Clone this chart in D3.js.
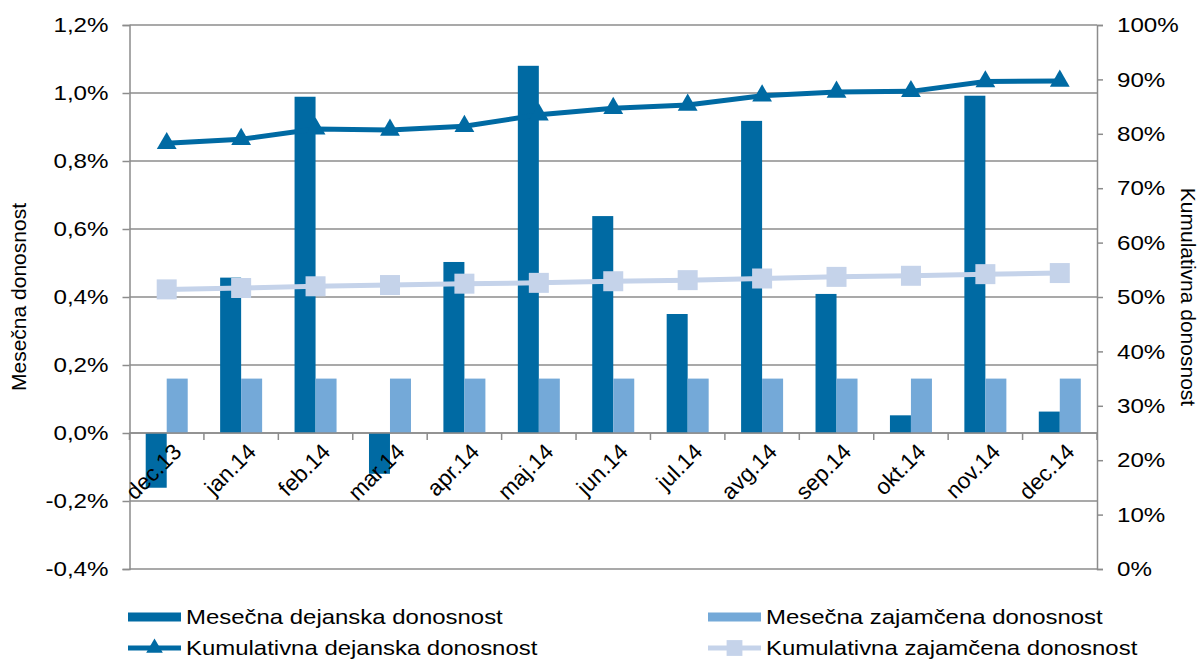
<!DOCTYPE html>
<html>
<head>
<meta charset="utf-8">
<script src="https://cdn.jsdelivr.net/npm/d3@7"></script>
<style>
  body { margin: 0; background: #fff; }
  text { font-family: "Liberation Sans", Arial, sans-serif; fill: #000; }
</style>
</head>
<body>
<svg id="chart" width="1202" height="659"></svg>
<script>
// data
var months = ["dec.13", "jan.14", "feb.14", "mar.14", "apr.14", "maj.14", "jun.14",
              "jul.14", "avg.14", "sep.14", "okt.14", "nov.14", "dec.14"];
var mesecnaDejanska = [-0.161, 0.457, 0.989, -0.12, 0.503, 1.080, 0.638,
                       0.350, 0.918, 0.409, 0.052, 0.992, 0.063];
var mesecnaZajamcena = [0.16, 0.16, 0.16, 0.16, 0.16, 0.16, 0.16,
                        0.16, 0.16, 0.16, 0.16, 0.16, 0.16];
var kumDejanska = [78.25, 79.0, 80.9, 80.7, 81.4, 83.5, 84.7,
                   85.3, 87.0, 87.7, 87.8, 89.6, 89.7];
var kumZajamcena = [51.4, 51.65, 51.97, 52.2, 52.45, 52.6, 52.9,
                    53.1, 53.4, 53.7, 53.9, 54.2, 54.4];
var leftTicks = [-0.4, -0.2, 0, 0.2, 0.4, 0.6, 0.8, 1.0, 1.2];
var rightTicks = [0, 10, 20, 30, 40, 50, 60, 70, 80, 90, 100];

var cDark = "#006aa3", cLight = "#74a9d8", cLine2 = "#c5d3ea", cGrid = "#8c8c8c";

var svg = d3.select("#chart");
var margin = {left: 129.5, right: 105, top: 25, bottom: 90};
var width = 1202 - margin.left - margin.right;
var height = 659 - margin.top - margin.bottom;
var g = svg.append("g").attr("transform", "translate(" + margin.left + "," + margin.top + ")");

var x = d3.scaleBand().domain(months).range([0, width]);
var yL = d3.scaleLinear().domain([-0.4, 1.2]).range([height, 0]);
var yR = d3.scaleLinear().domain([0, 100]).range([height, 0]);
var fmtL = function(d) { return d3.format(".1f")(d).replace(".", ",").replace("\u2212", "-") + "%"; };

// the original text is a bit wider than Liberation Sans, stretch it
function stretch(sel, k) {
    sel.each(function() {
        var w = this.getComputedTextLength();
        d3.select(this).attr("textLength", w * k).attr("lengthAdjust", "spacingAndGlyphs");
    });
}

// gridlines
g.append("g").selectAll("line").data(leftTicks).enter().append("line")
    .attr("x1", 0).attr("x2", width)
    .attr("y1", function(d) { return yL(d); }).attr("y2", function(d) { return yL(d); })
    .attr("stroke", cGrid).attr("stroke-width", 1.5);

// left axis
var axL = g.append("g")
    .call(d3.axisLeft(yL).tickValues(leftTicks).tickFormat(fmtL).tickSize(7).tickPadding(14));
// right axis
var axR = g.append("g").attr("transform", "translate(" + width + ",0)")
    .call(d3.axisRight(yR).tickValues(rightTicks).tickFormat(function(d) { return d + "%"; }).tickSize(6).tickPadding(14));
[axL, axR].forEach(function(a) {
    a.select(".domain").attr("stroke", cGrid).attr("stroke-width", 1.5);
    a.selectAll(".tick line").attr("stroke", cGrid).attr("stroke-width", 1.5);
    a.selectAll("text").style("font-size", "21px").style("font-family", "Liberation Sans, Arial, sans-serif");
    stretch(a.selectAll("text"), 1.15);
});

// bars
var barW = 21;
var bars = g.append("g");
bars.selectAll("rect.d").data(months).enter().append("rect")
    .attr("x", function(d) { return x(d) + x.bandwidth() / 2 - barW; })
    .attr("y", function(d, i) { return yL(Math.max(0, mesecnaDejanska[i])); })
    .attr("width", barW)
    .attr("height", function(d, i) { return Math.abs(yL(mesecnaDejanska[i]) - yL(0)); })
    .attr("fill", cDark);
bars.selectAll("rect.z").data(months).enter().append("rect")
    .attr("x", function(d) { return x(d) + x.bandwidth() / 2; })
    .attr("y", function(d, i) { return yL(Math.max(0, mesecnaZajamcena[i])); })
    .attr("width", barW)
    .attr("height", function(d, i) { return Math.abs(yL(mesecnaZajamcena[i]) - yL(0)); })
    .attr("fill", cLight);

// x axis at zero
var axX = g.append("g").attr("transform", "translate(0," + yL(0) + ")");
axX.append("line").attr("x1", 0).attr("x2", width).attr("stroke", cGrid).attr("stroke-width", 1.5);
axX.selectAll("line.t").data(d3.range(months.length + 1)).enter().append("line")
    .attr("x1", function(i) { return i * x.step(); }).attr("x2", function(i) { return i * x.step(); })
    .attr("y1", 0).attr("y2", 7).attr("stroke", cGrid).attr("stroke-width", 1.5);
axX.selectAll("text").data(months).enter().append("text")
    .attr("transform", function(d) { return "translate(" + (x(d) + x.bandwidth() / 2 + 5) + ",9) rotate(-45)"; })
    .attr("text-anchor", "end").attr("dy", "0.7em")
    .style("font-size", "22.5px")
    .text(function(d) { return d; });

// lines
var line2 = d3.line().x(function(d, i) { return x(months[i]) + x.bandwidth() / 2; }).y(function(d) { return yR(d); });
g.append("path").datum(kumZajamcena).attr("d", line2)
    .attr("fill", "none").attr("stroke", cLine2).attr("stroke-width", 5);
g.append("g").selectAll("path").data(kumZajamcena).enter().append("path")
    .attr("transform", function(d, i) { return "translate(" + (x(months[i]) + x.bandwidth() / 2) + "," + yR(d) + ")"; })
    .attr("d", d3.symbol().type(d3.symbolSquare).size(400))
    .attr("fill", cLine2);

g.append("path").datum(kumDejanska).attr("d", line2)
    .attr("fill", "none").attr("stroke", cDark).attr("stroke-width", 5);
g.append("g").selectAll("path").data(kumDejanska).enter().append("path")
    .attr("transform", function(d, i) { return "translate(" + (x(months[i]) + x.bandwidth() / 2) + "," + yR(d) + ")"; })
    .attr("d", d3.symbol().type(d3.symbolTriangle).size(170))
    .attr("fill", cDark);

// axis titles
svg.append("text").attr("transform", "translate(26," + (margin.top + height / 2) + ") rotate(-90)")
    .attr("text-anchor", "middle").style("font-size", "21px").text("Mesečna donosnost");
svg.append("text").attr("transform", "translate(1181," + (margin.top + height / 2) + ") rotate(90)")
    .attr("text-anchor", "middle").style("font-size", "21px").text("Kumulativna donosnost");

// legend
var legend = [
    {name: "Mesečna dejanska donosnost", type: "bar", color: cDark, x: 128, y: 617},
    {name: "Mesečna zajamčena donosnost", type: "bar", color: cLight, x: 708, y: 617},
    {name: "Kumulativna dejanska donosnost", type: "tri", color: cDark, x: 128, y: 648},
    {name: "Kumulativna zajamčena donosnost", type: "sq", color: cLine2, x: 708, y: 648}
];
var lg = svg.append("g").selectAll("g").data(legend).enter().append("g")
    .attr("transform", function(d) { return "translate(" + d.x + "," + d.y + ")"; });
lg.each(function(d) {
    var el = d3.select(this);
    if (d.type === "bar") {
        el.append("rect").attr("x", 0).attr("y", -4.5).attr("width", 53).attr("height", 9).attr("fill", d.color);
    } else {
        el.append("line").attr("x1", 0).attr("x2", 53).attr("stroke", d.color).attr("stroke-width", 5);
        el.append("path").attr("transform", "translate(26.5,0)")
            .attr("d", d3.symbol().type(d.type === "tri" ? d3.symbolTriangle : d3.symbolSquare).size(d.type === "tri" ? 120 : 250))
            .attr("fill", d.color);
    }
    el.append("text").attr("x", 58).attr("dy", "0.35em").style("font-size", "21px").text(d.name);
});
stretch(lg.selectAll("text"), 1.14);
</script>
</body>
</html>
